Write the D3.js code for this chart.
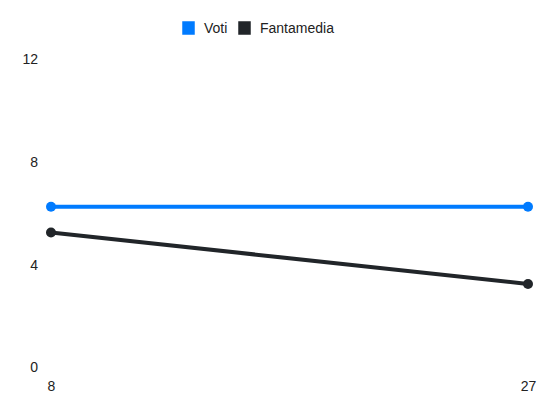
<!DOCTYPE html>
<html>
<head>
<meta charset="utf-8">
<script src="https://cdn.jsdelivr.net/npm/d3@7"></script>
<style>
  body { margin: 0; background: #fff; }
  text { font-family: "Liberation Sans", Arial, sans-serif; }
</style>
</head>
<body>
<div id="chart"></div>
<script>
// giornate on the x axis, one value per series
var giornate = [8, 27];
var voti = [6.25, 6.25];
var fantamedia = [5.25, 3.25];
var yTicks = [0, 4, 8, 12];
var seriesNames = ["Voti", "Fantamedia"];
var seriesColors = ["#007bff", "#212529"];

var width = 550, height = 412;
var margin = { top: 59, right: 22, bottom: 45, left: 51 };

var svg = d3.select("#chart").append("svg")
    .attr("width", width)
    .attr("height", height);

// point positions are evenly spread, like a category axis
var x = d3.scalePoint()
    .domain(giornate)
    .range([margin.left, width - margin.right]);

var y = d3.scaleLinear()
    .domain([0, 12])
    .range([height - margin.bottom + 0.5, margin.top]);

// y axis labels only, no lines
var yAxis = d3.axisLeft(y).tickValues(yTicks).tickSize(0).tickPadding(13);
svg.append("g")
    .attr("transform", "translate(" + margin.left + ",0)")
    .call(yAxis)
    .call(function(g){ g.select(".domain").remove(); })
    .selectAll("text")
    .style("font-size", "14px")
    .attr("fill", "#222");

var xAxis = d3.axisBottom(x).tickSize(0).tickPadding(14);
svg.append("g")
    .attr("transform", "translate(0," + (height - margin.bottom) + ")")
    .call(xAxis)
    .call(function(g){ g.select(".domain").remove(); })
    .selectAll("text")
    .style("font-size", "14px")
    .attr("fill", "#222");

var series = [voti, fantamedia];

var line = d3.line()
    .x(function(d, i){ return x(giornate[i]); })
    .y(function(d){ return y(d); });

series.forEach(function(values, s){
    svg.append("path")
        .datum(values)
        .attr("d", line)
        .attr("fill", "none")
        .attr("stroke", seriesColors[s])
        .attr("stroke-width", 4);

    svg.append("g").selectAll("circle")
        .data(values)
        .enter()
        .append("circle")
        .attr("cx", function(d, i){ return x(giornate[i]); })
        .attr("cy", function(d){ return y(d); })
        .attr("r", 5)
        .attr("fill", seriesColors[s]);
});

// legend at the top
var legend = svg.append("g").attr("transform", "translate(182,21)");
var offsets = [0, 56];
seriesNames.forEach(function(name, i){
    var item = legend.append("g").attr("transform", "translate(" + offsets[i] + ",0)");
    item.append("rect")
        .attr("width", 13)
        .attr("height", 14)
        .attr("fill", seriesColors[i])
        .attr("stroke", "#fff")
        .attr("stroke-width", 0.5);
    item.append("text")
        .attr("x", 22)
        .attr("y", 11.5)
        .style("font-size", "14px")
        .attr("fill", "#222")
        .text(name);
});
</script>
</body>
</html>
